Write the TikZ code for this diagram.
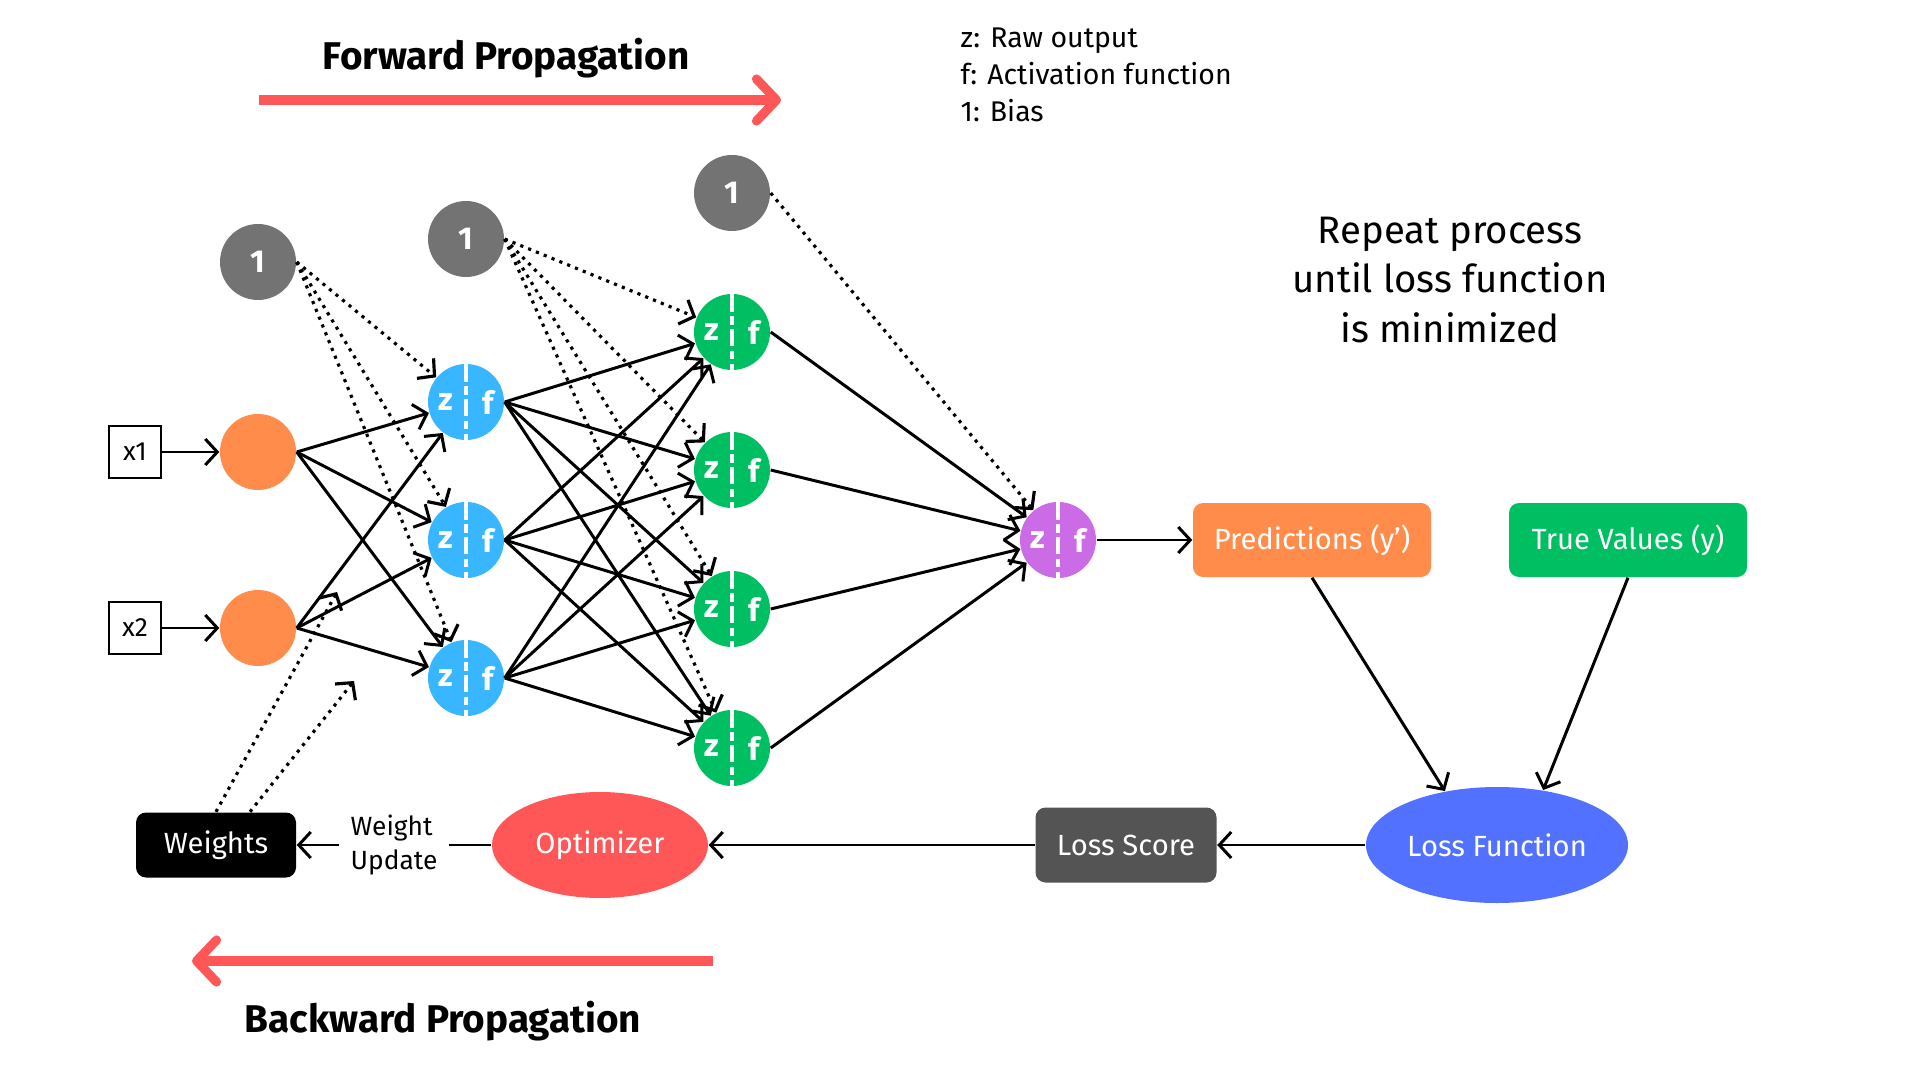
\documentclass[tikz,border=0pt]{standalone}
\usepackage{fontspec}
\setmainfont{Fira Sans}
\usepackage{tikz}
\usetikzlibrary{arrows.meta,shapes.geometric}

\definecolor{inorange}{HTML}{FF8C4B}
\definecolor{hidblue}{HTML}{38B6FF}
\definecolor{hidgreen}{HTML}{00BF63}
\definecolor{outpurple}{HTML}{CB6CE6}
\definecolor{biasgray}{HTML}{737373}
\definecolor{propred}{HTML}{FF5757}
\definecolor{lossblue}{HTML}{5271FF}
\definecolor{scoregray}{HTML}{545454}

\begin{document}
\begin{tikzpicture}[
    >={Straight Barb[length=1.2mm,width=2.6mm]},
    every node/.style={anchor=center},
    input/.style={draw, line width=0.6pt, minimum size=0.52cm, inner sep=0pt, font=\fontsize{7.5}{9}\selectfont},
    feature/.style={circle, fill=inorange, minimum size=0.76cm, inner sep=0pt},
    bias/.style={circle, fill=biasgray, minimum size=0.76cm, inner sep=0pt, text=white, font=\bfseries\fontsize{9}{10}\selectfont},
    neuron/.style={circle, fill=#1, minimum size=0.76cm, inner sep=0pt,
        path picture={
            \draw[white, line width=0.9pt, dash pattern=on 5pt off 1.2pt on 2.5pt off 1.2pt]
                (path picture bounding box.north) -- (path picture bounding box.south);
            \node[white, font=\bfseries\fontsize{9}{10}\selectfont] at ([xshift=-0.2cm]path picture bounding box.center) {z};
            \node[white, font=\bfseries\fontsize{9}{10}\selectfont] at ([xshift=0.22cm]path picture bounding box.center) {f};
        }},
    result/.style={rounded corners=0.1cm, minimum width=2.38cm, minimum height=0.74cm, text=white, font=\fontsize{8.3}{10}\selectfont},
    stage/.style={ellipse, inner sep=0pt, text=white, font=\fontsize{8.3}{10}\selectfont},
    title/.style={font=\bfseries\fontsize{11}{12}\selectfont},
    arrow/.style={->, line width=0.85pt},
    biasarrow/.style={->, line width=0.9pt, dash pattern=on 0.9pt off 1.5pt},
    bigarrow/.style={-{Straight Barb[length=2mm,width=4.2mm,round]}, line width=2.6pt, propred}
    ]
\useasboundingbox (0,0) rectangle (19.2,-10.8);

% Titles and notes
\node[title] (Forward Label) at (5.06,-0.58) {Forward Propagation};
\coordinate (fwd start) at (2.59,-1.00);
\coordinate (fwd end) at (7.81,-1.00);
\draw[bigarrow] (fwd start) -- (fwd end);

\node[title] (Backward Label) at (4.43,-10.21) {Backward Propagation};
\coordinate (bwd start) at (7.13,-9.61);
\coordinate (bwd end) at (1.92,-9.61);
\draw[bigarrow] (bwd start) -- (bwd end);

\node[anchor=west, align=left, inner sep=0pt, font=\fontsize{8.1}{10.5}\selectfont] (Legend) at (9.60,-0.75) {z: Raw output\\f: Activation function\\1: Bias};
\node[align=center, font=\fontsize{10.9}{14.2}\selectfont] (Repeat Label) at (14.50,-2.80) {Repeat process\\until loss function\\is minimized};

% Inputs and bias
\node[input] (x1) at (1.35,-4.52) {x1};
\node[input] (x2) at (1.35,-6.28) {x2};
\node[feature] (i1) at (2.58,-4.52) {};
\node[feature] (i2) at (2.58,-6.28) {};

\node[bias] (b1) at (2.58,-2.62) {1};
\node[bias] (b2) at (4.66,-2.39) {1};
\node[bias] (b3) at (7.32,-1.93) {1};

% Hidden layers
\node[neuron=hidblue] (h1) at (4.66,-4.02) {};
\node[neuron=hidblue] (h2) at (4.66,-5.40) {};
\node[neuron=hidblue] (h3) at (4.66,-6.78) {};

\node[neuron=hidgreen] (g1) at (7.32,-3.32) {};
\node[neuron=hidgreen] (g2) at (7.32,-4.70) {};
\node[neuron=hidgreen] (g3) at (7.32,-6.09) {};
\node[neuron=hidgreen] (g4) at (7.32,-7.48) {};

\node[neuron=outpurple] (out) at (10.58,-5.40) {};

% Loss and update
\node[result, fill=inorange] (pred) at (13.12,-5.40) {Predictions (y’)};
\node[result, fill=hidgreen] (true) at (16.28,-5.40) {True Values (y)};
\node[stage, fill=lossblue, minimum width=2.62cm, minimum height=1.16cm] (loss) at (14.97,-8.45) {Loss Function};
\node[result, fill=scoregray, minimum width=1.81cm, minimum height=0.75cm] (score) at (11.26,-8.45) {Loss Score};
\node[stage, fill=propred, minimum width=2.16cm, minimum height=1.06cm] (opt) at (6.00,-8.45) {Optimizer};
\node[result, fill=black, minimum width=1.60cm, minimum height=0.65cm] (weights) at (2.16,-8.45) {Weights};
\coordinate (w1) at (3.37,-5.92);
\coordinate (w2) at (3.54,-6.81);

% Arrows for inputs
\draw[arrow] (x1) -- (i1);
\draw[arrow] (x2) -- (i2);
\draw[arrow] (i1.east) -- (h1);
\draw[arrow] (i1.east) -- (h2);
\draw[arrow] (i1.east) -- (h3);
\draw[arrow] (i2.east) -- (h1);
\draw[arrow] (i2.east) -- (h2);
\draw[arrow] (i2.east) -- (h3);

% Arrows between hidden layers
\draw[arrow] (h1.east) -- (g1);
\draw[arrow] (h1.east) -- (g2);
\draw[arrow] (h1.east) -- (g3);
\draw[arrow] (h1.east) -- (g4);
\draw[arrow] (h2.east) -- (g1);
\draw[arrow] (h2.east) -- (g2);
\draw[arrow] (h2.east) -- (g3);
\draw[arrow] (h2.east) -- (g4);
\draw[arrow] (h3.east) -- (g1);
\draw[arrow] (h3.east) -- (g2);
\draw[arrow] (h3.east) -- (g3);
\draw[arrow] (h3.east) -- (g4);
\draw[arrow] (g1.east) -- (out);
\draw[arrow] (g2.east) -- (out);
\draw[arrow] (g3.east) -- (out);
\draw[arrow] (g4.east) -- (out);

% Bias arrows
\draw[biasarrow] (b1.east) -- (h1);
\draw[biasarrow] (b1.east) -- (h2);
\draw[biasarrow] (b1.east) -- (h3);
\draw[biasarrow] (b2.east) -- (g1);
\draw[biasarrow] (b2.east) -- (g2);
\draw[biasarrow] (b2.east) -- (g3);
\draw[biasarrow] (b2.east) -- (g4);
\draw[biasarrow] (b3.east) -- (out);

% Loss and update arrows
\draw[arrow] (out) -- (pred);
\draw[arrow] (pred.south) -- (loss.134);
\draw[arrow] (true.south) -- (loss.50);
\draw[arrow] (loss) -- (score);
\draw[arrow] (score) -- (opt);
\draw[arrow] (opt) -- node[fill=white, align=left, font=\fontsize{7.5}{9.5}\selectfont] {Weight\\Update} (weights);
\draw[biasarrow] (weights.north) -- (w1);
\draw[biasarrow] ([xshift=0.34cm]weights.north) -- (w2);

\end{tikzpicture}
\end{document}
